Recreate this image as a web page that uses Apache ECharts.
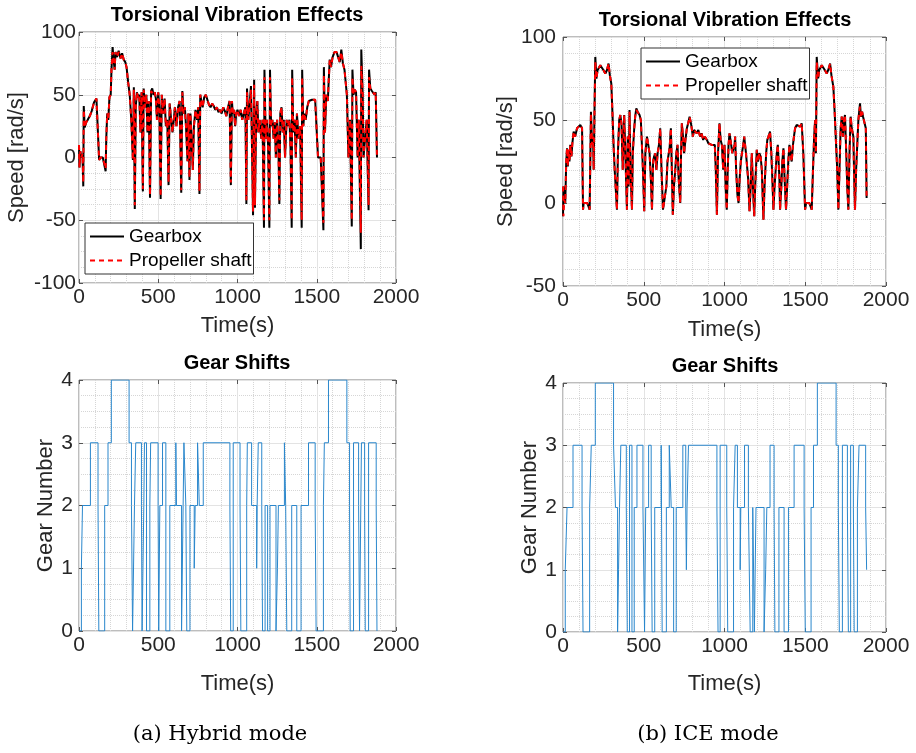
<!DOCTYPE html>
<html>
<head>
<meta charset="utf-8">
<title>Torsional Vibration Effects</title>
<script src="https://cdn.jsdelivr.net/npm/echarts@6/dist/echarts.min.js"></script>
<style>
  html, body { margin: 0; padding: 0; background: #fff; }
  #main { width: 916px; height: 753px; }
</style>
</head>
<body>
<div id="main"></div>
<script>
// ---- (a) Hybrid mode : speed ----
const hybridTime = [0, 3, 8, 15, 22, 27, 30, 36, 45, 55, 68, 80, 95, 110, 120, 127, 135, 150, 162, 168,
  172, 178, 185, 192, 200, 205, 212, 218, 225, 230, 240, 250, 262, 272, 282, 292, 300, 310, 320, 330,
  340, 346, 352, 358, 365, 372, 380, 388, 395, 403, 408, 415, 425, 432, 440, 448, 455, 462, 470, 478,
  485, 492, 500, 507, 515, 522, 530, 540, 548, 557, 565, 572, 580, 590, 598, 605, 615, 625, 635, 645,
  652, 660, 668, 675, 685, 690, 697, 703, 710, 718, 725, 735, 745, 752, 760, 765, 772, 780, 790, 800,
  810, 820, 830, 840, 850, 860, 870, 880, 890, 900, 910, 920, 930, 940, 950, 958, 965, 970, 978, 985,
  992, 1000, 1010, 1020, 1030, 1040, 1050, 1056, 1060, 1068, 1075, 1085, 1090, 1098, 1105, 1110, 1118, 1125, 1132, 1140,
  1150, 1158, 1167, 1170, 1178, 1185, 1193, 1201, 1205, 1212, 1220, 1228, 1235, 1242, 1250, 1258, 1264, 1270, 1278, 1285,
  1292, 1300, 1310, 1318, 1328, 1335, 1342, 1345, 1352, 1360, 1368, 1375, 1385, 1395, 1405, 1408, 1415, 1422, 1430, 1440,
  1450, 1460, 1470, 1480, 1490, 1500, 1508, 1515, 1525, 1535, 1542, 1545, 1552, 1560, 1570, 1575, 1582, 1590, 1600, 1612,
  1625, 1635, 1645, 1655, 1665, 1675, 1690, 1700, 1710, 1721, 1725, 1732, 1740, 1748, 1758, 1765, 1778, 1781, 1790, 1795,
  1805, 1815, 1827, 1830, 1838, 1848, 1858, 1865, 1872, 1880];
const hybridGearbox = [10, -8, 5, 0, 3, -23, 41, 24, 28, 30, 33, 37, 44, 47, 48, -2, 0, 0, 0, -11,
  15, 35, 30, 48, 50, 70, 88, 78, 70, 84, 80, 85, 79, 83, 78, 76, 72, 60, 50, 30,
  -2, 56, -41, 40, 52, 48, 50, 20, 52, -27, 55, 40, 50, 20, 45, -32, 53, 55, 50, 52,
  47, 30, 52, 40, -33, 50, 35, 47, 25, 30, -22, 43, 32, 20, 30, 40, 25, 40, 45, -28,
  53, 35, 40, 25, -3, 35, -18, 35, 15, -10, 25, 38, 30, 40, -29, 50, 45, 40, 48, 50,
  46, 42, 40, 43, 41, 38, 40, 36, 38, 35, 40, 37, 33, 40, 45, -22, 45, 35, 38, 25,
  35, 38, 33, 38, 30, 35, 40, -37, 55, 30, 40, 57, 20, -46, 62, -40, 35, 45, 20, 30,
  15, 30, -56, 70, 15, 30, 10, -56, 70, 25, 30, 15, 28, 0, 30, 10, -37, 35, 40, 20,
  30, 0, 30, 25, 30, 5, -56, 70, 20, 30, 0, 35, 15, 25, -56, 70, 25, 35, 30, 40,
  45, 46, 46, 47, 46, 45, 0, 0, 0, 0, -58, 72, 20, 50, 45, 60, 78, 72, 80, 84,
  84, 80, 76, 86, 75, 70, 50, 0, 30, -55, 70, 50, 54, 52, 0, 30, -73, 86, 50, 0,
  0, 30, -42, 70, 55, 53, 54, 50, 52, 0];
const hybridPropeller = [10, -8, 5, 0, 3, -20, 38, 24, 28, 30, 33, 37, 44, 47, 48, -2, 0, 0, 0, -9,
  15, 35, 30, 48, 50, 70, 84, 78, 70, 84, 80, 84, 79, 83, 78, 76, 72, 60, 50, 30,
  -2, 54, -38, 40, 52, 48, 50, 20, 52, -25, 54, 40, 50, 20, 45, -30, 53, 54, 50, 52,
  47, 30, 52, 40, -31, 50, 35, 47, 25, 30, -20, 43, 32, 20, 30, 40, 25, 40, 45, -26,
  52, 35, 40, 25, -3, 35, -16, 35, 15, -10, 25, 38, 30, 40, -27, 50, 45, 40, 48, 50,
  46, 42, 40, 43, 41, 38, 40, 36, 38, 35, 40, 37, 33, 40, 45, -20, 45, 35, 38, 25,
  35, 38, 33, 38, 30, 35, 40, -34, 52, 30, 40, 54, 20, -43, 58, -38, 35, 45, 20, 30,
  15, 30, -50, 64, 15, 30, 10, -50, 64, 25, 30, 15, 28, 0, 30, 10, -34, 35, 40, 20,
  30, 0, 30, 25, 30, 5, -50, 64, 20, 30, 0, 35, 15, 25, -50, 64, 25, 35, 30, 40,
  45, 46, 46, 47, 46, 45, 0, 0, 0, 0, -52, 66, 20, 50, 45, 60, 78, 72, 80, 84,
  84, 80, 76, 84, 75, 70, 50, 0, 30, -50, 64, 50, 54, 52, 0, 30, -60, 73, 50, 0,
  0, 30, -38, 64, 55, 53, 54, 50, 52, 0];

// ---- (b) ICE mode : speed ----
const iceTime = [0, 3, 8, 14, 20, 25, 30, 35, 40, 45, 52, 58, 66, 75, 87, 97, 107, 118, 124, 128,
  140, 150, 159, 165, 173, 180, 186, 190, 195, 200, 207, 214, 221, 231, 241, 251, 262, 272, 282, 290,
  299, 306, 313, 320, 334, 340, 348, 355, 362, 370, 379, 386, 396, 401, 406, 412, 418, 427, 432, 441,
  447, 454, 462, 474, 482, 489, 495, 503, 510, 520, 528, 536, 544, 551, 558, 564, 571, 578, 586, 594,
  602, 610, 619, 625, 633, 640, 647, 654, 660, 668, 674, 680, 687, 695, 702, 709, 716, 726, 731, 736,
  743, 750, 758, 767, 775, 784, 794, 804, 812, 819, 828, 838, 849, 858, 868, 878, 891, 900, 910, 920,
  932, 940, 946, 953, 960, 969, 976, 984, 992, 1000, 1007, 1014, 1020, 1025, 1031, 1040, 1048, 1056, 1062, 1066,
  1072, 1080, 1087, 1094, 1101, 1108, 1116, 1122, 1128, 1133, 1138, 1146, 1155, 1162, 1169, 1176, 1184, 1190, 1200, 1208,
  1216, 1224, 1231, 1236, 1241, 1248, 1258, 1265, 1272, 1282, 1290, 1296, 1303, 1310, 1317, 1324, 1330, 1334, 1340, 1344,
  1352, 1358, 1365, 1372, 1381, 1388, 1395, 1402, 1409, 1416, 1424, 1430, 1437, 1447, 1458, 1468, 1478, 1488, 1499, 1505,
  1515, 1525, 1530, 1540, 1548, 1555, 1561, 1566, 1571, 1580, 1586, 1592, 1602, 1612, 1622, 1633, 1642, 1654, 1662, 1674,
  1682, 1691, 1698, 1705, 1712, 1719, 1726, 1734, 1740, 1746, 1754, 1760, 1767, 1774, 1781, 1788, 1798, 1803, 1808, 1815,
  1822, 1829, 1834, 1839, 1845, 1852, 1858, 1865, 1870, 1875, 1880];
const iceGearbox = [-8, 10, 2, 0, 25, 33, 22, 32, 25, 35, 28, 36, 43, 40, 45, 46, 47, 45, -4, 0,
  0, 0, 0, -4, 55, 35, 40, 20, 55, 88, 75, 80, 80, 83, 84, 80, 78, 80, 84, 77,
  72, 55, 35, 20, -4, 30, 50, 53, 48, 20, 53, 30, -4, 40, 10, 56, 20, -4, 30, 45,
  52, 57, 55, 53, 50, 50, 20, -5, 30, 40, 35, 30, 15, -4, 25, 28, 30, 20, 30, 35,
  45, 20, -4, 0, 0, 10, 25, 25, 33, 45, 20, -7, 10, 20, 30, 35, 15, 0, 30, 48,
  40, 30, 38, 45, 48, 52, 47, 40, 44, 45, 42, 44, 40, 42, 38, 40, 38, 36, 37, 35,
  36, 35, 20, -7, 30, 48, 38, 35, 20, 35, 10, -4, 20, 35, 42, 36, 30, 30, 35, 40,
  20, 5, 0, 15, 25, 30, 35, 40, 40, 30, 30, 15, -5, 10, 30, 10, -8, 10, 32, 25,
  30, 28, 20, 5, -10, 10, 30, 38, 40, 43, 30, 15, -4, 10, 20, 30, 35, 35, 15, -4,
  10, 25, 33, 15, -4, 10, 25, 35, 30, 25, 35, 40, 45, 47, 47, 46, 48, 30, -4, 0,
  0, 0, 0, -4, 20, 40, 50, 30, 88, 75, 80, 80, 83, 84, 80, 78, 80, 84, 77, 70,
  55, 35, 20, -4, 20, 45, 52, 40, 50, 53, 30, 10, -4, 30, 52, 45, 40, 15, -4, 20,
  35, 50, 55, 60, 52, 55, 52, 52, 52, 45, 3];
const icePropeller = [10, -8, 2, 0, 25, 33, 22, 32, 25, 35, 28, 36, 43, 40, 45, 46, 47, 45, -4, 0,
  0, 0, 0, -4, 54, 35, 40, 20, 55, 85, 75, 80, 80, 83, 84, 80, 78, 80, 84, 77,
  72, 55, 35, 20, -4, 30, 50, 53, 48, 20, 53, 30, -4, 40, 10, 55, 20, -4, 30, 45,
  52, 56, 55, 53, 50, 50, 20, -5, 30, 40, 35, 30, 15, -4, 25, 28, 30, 20, 30, 35,
  45, 20, -4, 0, 0, 10, 25, 25, 33, 45, 20, -7, 10, 20, 30, 35, 15, 0, 30, 48,
  40, 30, 38, 45, 48, 52, 47, 40, 44, 45, 42, 44, 40, 42, 38, 40, 38, 36, 37, 35,
  36, 35, 20, -7, 30, 48, 38, 35, 20, 35, 10, -4, 20, 35, 42, 36, 30, 30, 35, 40,
  20, 5, 0, 15, 25, 30, 35, 40, 40, 30, 30, 15, -5, 10, 30, 10, -8, 10, 32, 25,
  30, 28, 20, 5, -10, 10, 30, 38, 40, 43, 30, 15, -4, 10, 20, 30, 35, 35, 15, -4,
  10, 25, 33, 15, -4, 10, 25, 35, 30, 25, 35, 40, 45, 47, 47, 46, 48, 30, -4, 0,
  0, 0, 0, -4, 20, 40, 50, 30, 85, 75, 80, 80, 83, 84, 80, 78, 80, 84, 77, 70,
  55, 35, 20, -4, 20, 45, 52, 40, 50, 53, 30, 10, -4, 30, 52, 45, 40, 15, -4, 20,
  35, 50, 55, 58, 52, 55, 52, 52, 52, 45, 3];

// ---- gear shifts (time where gear changes, gear held until next change) ----
const hybridShiftTime = [0, 15, 22, 72, 120, 125, 162, 183, 204, 316, 331, 338, 350, 358, 394, 398, 409, 413, 426, 447,
  452, 499, 503, 510, 527, 548, 573, 611, 615, 647, 657, 662, 674, 680, 700, 727, 733, 748, 759, 784,
  952, 957, 973, 1016, 1021, 1058, 1062, 1089, 1121, 1124, 1131, 1153, 1158, 1174, 1190, 1205, 1243, 1252, 1258, 1296,
  1304, 1311, 1342, 1374, 1401, 1448, 1490, 1496, 1542, 1548, 1574, 1690, 1707, 1711, 1732, 1764, 1770, 1778, 1782, 1802,
  1806, 1827, 1875, 1880];
const hybridGear = [0, 1, 2, 3, 2, 0, 2, 3, 4, 3, 2, 0, 2, 3, 2, 0, 2, 3, 0, 2,
  3, 2, 0, 2, 3, 0, 2, 3, 2, 0, 2, 3, 2, 0, 2, 1, 2, 3, 2, 3,
  2, 0, 3, 2, 0, 2, 3, 2, 1, 2, 3, 2, 0, 2, 0, 2, 0, 1, 2, 3,
  2, 0, 2, 0, 2, 3, 2, 0, 2, 3, 4, 3, 2, 0, 3, 2, 0, 2, 3, 2,
  0, 3, 2, 0];
const iceShiftTime = [0, 14, 25, 62, 118, 124, 165, 175, 200, 313, 325, 338, 344, 350, 358, 392, 398, 412, 427, 441,
  458, 495, 505, 512, 530, 546, 552, 568, 608, 614, 640, 658, 670, 685, 701, 742, 760, 764, 768, 777,
  953, 960, 973, 1014, 1020, 1056, 1066, 1080, 1097, 1101, 1124, 1148, 1159, 1175, 1185, 1195, 1245, 1255, 1262, 1282,
  1307, 1312, 1337, 1369, 1396, 1431, 1493, 1500, 1536, 1551, 1575, 1691, 1705, 1711, 1730, 1761, 1767, 1781, 1798, 1803,
  1823, 1833, 1874, 1880];
const iceGear = [0, 1, 2, 3, 2, 0, 2, 3, 4, 3, 2, 0, 1, 2, 3, 2, 0, 3, 0, 2,
  3, 2, 0, 2, 3, 2, 0, 2, 3, 0, 2, 3, 2, 0, 2, 3, 2, 1, 2, 3,
  2, 0, 3, 2, 0, 2, 3, 2, 1, 2, 3, 2, 0, 2, 0, 2, 0, 1, 2, 3,
  2, 0, 2, 0, 2, 3, 2, 0, 2, 3, 4, 3, 2, 0, 3, 2, 0, 3, 2, 0,
  2, 3, 2, 1];

const xTicks = { min: 0, max: 2000, interval: 500 };

var chartDom = document.getElementById('main');
var myChart = echarts.init(chartDom);

const FONT = '"Liberation Sans", Arial, sans-serif';
const zip = (t, v) => t.map((x, i) => [x, v[i]]);
const plain = v => String(v);
const tickStyle = { show: true, inside: true, length: 4, lineStyle: { color: '#555' } };

function xAxis(gridIndex, nameGap) {
  return {
    gridIndex: gridIndex,
    type: 'value',
    min: xTicks.min, max: xTicks.max, interval: xTicks.interval,
    name: 'Time(s)', nameLocation: 'middle', nameGap: nameGap,
    nameTextStyle: { fontSize: 22, color: '#262626', fontFamily: FONT },
    axisLine: { show: false, onZero: false },
    axisTick: tickStyle,
    axisLabel: { fontSize: 21, color: '#262626', fontFamily: FONT, margin: 4, formatter: plain },
    splitLine: { show: true, lineStyle: { color: '#e3e3e3', width: 1 } },
    minorTick: { show: false, splitNumber: 5 },
    minorSplitLine: { show: true, lineStyle: { color: '#d6d6d6', type: 'dotted', width: 1 } }
  };
}

function yAxis(gridIndex, min, max, interval, minorSplit, name, nameGap, margin) {
  return {
    gridIndex: gridIndex,
    type: 'value',
    min: min, max: max, interval: interval,
    name: name, nameLocation: 'middle', nameGap: nameGap,
    nameTextStyle: { fontSize: 22, color: '#262626', fontFamily: FONT },
    axisLine: { show: false, onZero: false },
    axisTick: tickStyle,
    axisLabel: { fontSize: 21, color: '#262626', fontFamily: FONT, margin: margin, formatter: plain },
    splitLine: { show: true, lineStyle: { color: '#e3e3e3', width: 1 } },
    minorTick: { show: false, splitNumber: minorSplit },
    minorSplitLine: { show: true, lineStyle: { color: '#d6d6d6', type: 'dotted', width: 1 } }
  };
}

// tick-only axes on the top and right edges (box style)
function boxX(gridIndex) {
  return {
    gridIndex: gridIndex, type: 'value', position: 'top',
    min: xTicks.min, max: xTicks.max, interval: xTicks.interval,
    axisLine: { show: false, onZero: false }, axisTick: tickStyle,
    axisLabel: { show: false }, splitLine: { show: false }
  };
}
function boxY(gridIndex, min, max, interval) {
  return {
    gridIndex: gridIndex, type: 'value', position: 'right',
    min: min, max: max, interval: interval,
    axisLine: { show: false, onZero: false }, axisTick: tickStyle,
    axisLabel: { show: false }, splitLine: { show: false }
  };
}

function speedSeries(idx, time, gearbox, propeller) {
  return [
    {
      name: 'Gearbox', type: 'line', xAxisIndex: idx, yAxisIndex: idx,
      data: zip(time, gearbox), showSymbol: false, symbol: 'none', animation: false,
      lineStyle: { color: '#000000', width: 2 }, itemStyle: { color: '#000000' }
    },
    {
      name: 'Propeller shaft', type: 'line', xAxisIndex: idx, yAxisIndex: idx,
      data: zip(time, propeller), showSymbol: false, symbol: 'none', animation: false,
      lineStyle: { color: '#ff0000', width: 2, type: [5, 4] }, itemStyle: { color: '#ff0000' }
    }
  ];
}

function gearSeries(idx, time, gear) {
  return {
    name: 'Gear', type: 'line', xAxisIndex: idx, yAxisIndex: idx,
    data: zip(time, gear), step: 'end', showSymbol: false, symbol: 'none', animation: false,
    lineStyle: { color: '#2a87cc', width: 1 }
  };
}

const gridBase = { show: true, borderColor: '#7a7a7a', borderWidth: 1, backgroundColor: '#fff',
  containLabel: false, outerBoundsMode: 'none' };

function legendAt(left, top) {
  return {
    data: ['Gearbox', 'Propeller shaft'],
    orient: 'vertical', left: left, top: top,
    itemWidth: 34, itemHeight: 12, itemGap: 5,
    padding: [4, 2, 4, 4],
    borderColor: '#333', borderWidth: 1, backgroundColor: '#fff',
    selectedMode: false,
    itemStyle: { opacity: 0 },
    textStyle: { fontSize: 19, color: '#000', fontFamily: FONT }
  };
}

function label(x, y, text, font) {
  return {
    type: 'text', x: x, y: y,
    style: { text: text, font: font, fill: '#000', align: 'center', verticalAlign: 'middle' }
  };
}

const option = {
  backgroundColor: '#fff',
  animation: false,
  grid: [
    Object.assign({ left: 79, top: 32, width: 317, height: 251 }, gridBase),
    Object.assign({ left: 563, top: 37, width: 323, height: 249 }, gridBase),
    Object.assign({ left: 79, top: 380, width: 317, height: 251 }, gridBase),
    Object.assign({ left: 563, top: 383, width: 323, height: 249 }, gridBase)
  ],
  xAxis: [xAxis(0, 32), xAxis(1, 33), xAxis(2, 42), xAxis(3, 41),
    boxX(0), boxX(1), boxX(2), boxX(3)],
  yAxis: [
    yAxis(0, -100, 100, 50, 4, 'Speed [rad/s]', 51, 3),
    yAxis(1, -50, 100, 50, 5, 'Speed [rad/s]', 43, 7),
    yAxis(2, 0, 4, 1, 4, 'Gear Number', 20, 6),
    yAxis(3, 0, 4, 1, 4, 'Gear Number', 22, 6),
    boxY(0, -100, 100, 50), boxY(1, -50, 100, 50), boxY(2, 0, 4, 1), boxY(3, 0, 4, 1)
  ],
  legend: [legendAt(85, 223), legendAt(641, 48)],
  series: [
    ...speedSeries(0, hybridTime, hybridGearbox, hybridPropeller),
    ...speedSeries(1, iceTime, iceGearbox, icePropeller),
    gearSeries(2, hybridShiftTime, hybridGear),
    gearSeries(3, iceShiftTime, iceGear)
  ],
  graphic: [
    label(237, 15, 'Torsional Vibration Effects', 'bold 20px ' + FONT),
    label(725, 20, 'Torsional Vibration Effects', 'bold 20px ' + FONT),
    label(237, 363, 'Gear Shifts', 'bold 20px ' + FONT),
    label(725, 366, 'Gear Shifts', 'bold 20px ' + FONT),
    label(220, 735, '(a) Hybrid mode', '21px "DejaVu Serif", serif'),
    label(708, 735, '(b) ICE mode', '21px "DejaVu Serif", serif')
  ]
};

myChart.setOption(option);
window.addEventListener('resize', function () {
  myChart.resize();
});
</script>
</body>
</html>
